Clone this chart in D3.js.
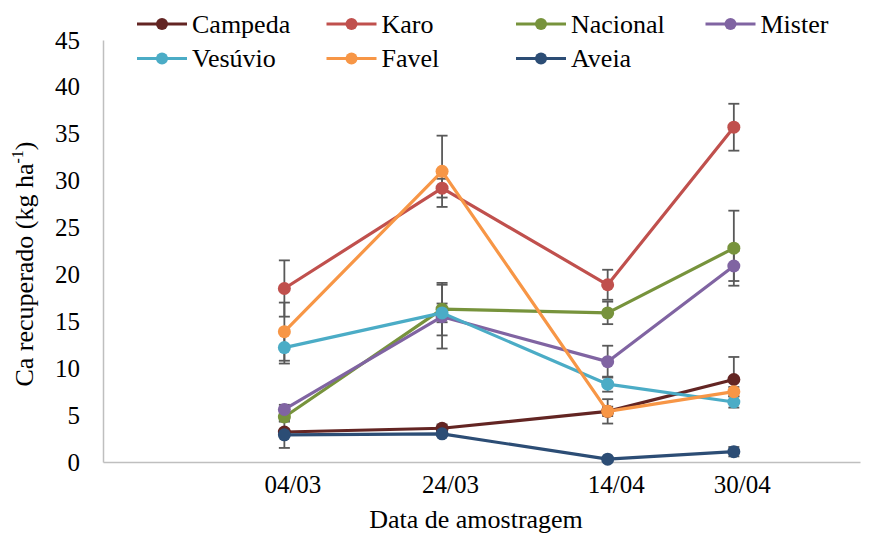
<!DOCTYPE html>
<html>
<head>
<meta charset="utf-8">
<script src="https://cdn.jsdelivr.net/npm/d3@7"></script>
<style>
  body { margin: 0; background: #fff; }
  svg text { fill: #000; }
</style>
</head>
<body>
<script>
// sampling dates (dd/mm)
var dates = ["2015-03-04", "2015-03-24", "2015-04-14", "2015-04-30"];

var series = ["Campeda", "Karo", "Nacional", "Mister", "Vesúvio", "Favel", "Aveia"];
var colors = ["#632523", "#C0504D", "#77933C", "#8064A2", "#4BACC6", "#F79646", "#2C4D75"];

// Ca recuperado (kg/ha) per series
var campeda  = [3.2, 3.6, 5.4, 8.8];
var karo     = [18.5, 29.2, 18.9, 35.7];
var nacional = [4.8, 16.3, 15.9, 22.8];
var mister   = [5.6, 15.5, 10.7, 20.9];
var vesuvio  = [12.2, 15.9, 8.3, 6.4];
var favel    = [13.9, 31.0, 5.4, 7.5];
var aveia    = [2.9, 3.0, 0.3, 1.1];

// error bar half-widths
var campedaErr  = [0.3, 0.4, 0.5, 2.4];
var karoErr     = [3.0, 1.0, 1.6, 2.5];
var nacionalErr = [0.4, 2.8, 1.2, 4.0];
var misterErr   = [0.5, 3.4, 1.7, 1.6];
var vesuvioErr  = [1.7, 1.0, 0.8, 0.6];
var favelErr    = [3.1, 3.8, 1.3, 0.5];
var aveiaErr    = [1.4, 0.2, 0.2, 0.5];

var yTicks = [0, 5, 10, 15, 20, 25, 30, 35, 40, 45];

var values = [campeda, karo, nacional, mister, vesuvio, favel, aveia];
var errors = [campedaErr, karoErr, nacionalErr, misterErr, vesuvioErr, favelErr, aveiaErr];

var parseDate = d3.timeParse("%Y-%m-%d");
var dateObjs = dates.map(parseDate);

var width = 879, height = 533;
var plot = {left: 103, right: 860, top: 40, bottom: 462};
var serif = "'Liberation Serif', 'Times New Roman', serif";

var data = series.map(function(name, i) {
    return {
        name: name,
        color: colors[i],
        points: dateObjs.map(function(d, j) {
            return {date: d, value: values[i][j], err: errors[i][j]};
        })
    };
});

var svg = d3.select("body").append("svg")
    .attr("width", width)
    .attr("height", height)
    .attr("font-family", serif);

var xScale = d3.scaleTime()
    .domain([parseDate("2015-02-09"), parseDate("2015-05-16")])
    .range([plot.left, plot.right]);

var yScale = d3.scaleLinear()
    .domain([0, 45])
    .range([plot.bottom, plot.top]);

//Y axis
var yAxis = d3.axisLeft(yScale).tickValues(yTicks).tickSize(0).tickSizeOuter(0).tickPadding(23);
var gy = svg.append("g")
    .attr("transform", "translate(" + plot.left + ",0)")
    .call(yAxis)
    .attr("font-family", serif)
    .attr("font-size", 25);
gy.select(".domain").attr("stroke", "#BFBFBF").attr("stroke-width", 1.5);

//X axis
var xAxis = d3.axisBottom(xScale).tickValues(dateObjs)
    .tickFormat(d3.timeFormat("%d/%m")).tickSize(0).tickSizeOuter(0).tickPadding(13);
var gx = svg.append("g")
    .attr("transform", "translate(0," + plot.bottom + ")")
    .call(xAxis)
    .attr("font-family", serif)
    .attr("font-size", 25);
gx.select(".domain").attr("stroke", "#BFBFBF").attr("stroke-width", 1.5);
gx.selectAll("text").attr("dx", 8);

//Axis titles
svg.append("text")
    .attr("x", 476)
    .attr("y", 528)
    .attr("text-anchor", "middle")
    .attr("font-size", "26px")
    .text("Data de amostragem");

var ytitle = svg.append("text")
    .attr("transform", "translate(33,264) rotate(-90)")
    .attr("text-anchor", "middle")
    .attr("font-size", "26px");
ytitle.append("tspan").text("Ca recuperado (kg ha");
ytitle.append("tspan").attr("font-size", "16px").attr("dy", -10).text("-1");
ytitle.append("tspan").attr("dy", 10).text(")");

//Error bars first so markers sit above them
var eb = svg.append("g").attr("class", "errorbars");
data.forEach(function(s) {
    s.points.forEach(function(p) {
        var x = xScale(p.date), y1 = yScale(p.value + p.err), y2 = yScale(p.value - p.err);
        eb.append("line").attr("x1", x).attr("x2", x).attr("y1", y1).attr("y2", y2);
        eb.append("line").attr("x1", x - 5.5).attr("x2", x + 5.5).attr("y1", y1).attr("y2", y1);
        eb.append("line").attr("x1", x - 5.5).attr("x2", x + 5.5).attr("y1", y2).attr("y2", y2);
    });
});
eb.selectAll("line").attr("stroke", "#595959").attr("stroke-width", 1.8);

var line = d3.line()
    .x(function(d) { return xScale(d.date); })
    .y(function(d) { return yScale(d.value); });

data.forEach(function(s) {
    var g = svg.append("g").attr("class", "series");
    g.append("path")
        .datum(s.points)
        .attr("d", line)
        .attr("fill", "none")
        .attr("stroke", s.color)
        .attr("stroke-width", 3.2)
        .attr("stroke-linejoin", "round");
    g.selectAll(".dot")
        .data(s.points)
        .enter()
        .append("circle")
        .attr("class", "dot")
        .attr("cx", function(d) { return xScale(d.date); })
        .attr("cy", function(d) { return yScale(d.value); })
        .attr("r", 6.5)
        .attr("fill", s.color);
});

//Legend
var legend = svg.append("g").attr("class", "legend");
data.forEach(function(s, i) {
    var col = i % 4, row = Math.floor(i / 4);
    var lx = 137 + col * 189.5, ly = 24 + row * 34.5;
    var item = legend.append("g").attr("transform", "translate(" + lx + "," + ly + ")");
    item.append("line")
        .attr("x1", 0).attr("x2", 50).attr("y1", 0).attr("y2", 0)
        .attr("stroke", s.color).attr("stroke-width", 3.2);
    item.append("circle").attr("cx", 25).attr("cy", 0).attr("r", 6).attr("fill", s.color);
    item.append("text")
        .attr("x", 55).attr("y", 8.5)
        .attr("font-size", "26px")
        .text(s.name);
});
</script>
</body>
</html>
